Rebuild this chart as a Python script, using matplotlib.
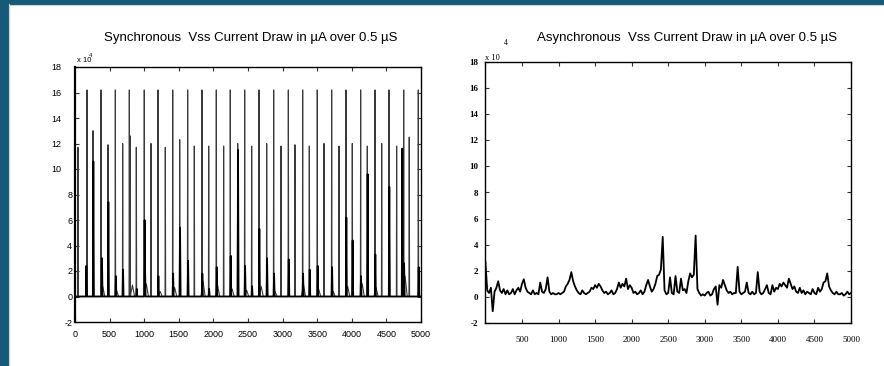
import numpy as np
import matplotlib
matplotlib.use('Agg')
import matplotlib.pyplot as plt
from matplotlib.patches import Rectangle
from matplotlib.lines import Line2D

# ===== DATA (values in units of 1e4 uA, time steps 0..5000)

# synchronous: main clock spikes
sync_tall_x = [173, 376, 583, 785, 1001, 1199, 1412, 1628, 1835, 2042, 2244, 2452,
               2659, 2871, 3083, 3290, 3501, 3709, 3916, 4128, 4335, 4537, 4750, 4961]
sync_tall_y = [16.2] * 24

sync_mid_x = [43, 260, 477, 689, 795, 886, 1098, 1305, 1513, 1724, 1932, 2148, 2351,
              2553, 2770, 2977, 3179, 3386, 3598, 3815, 4007, 4224, 4432, 4648, 4830]
sync_mid_y = [11.7, 13.0, 11.9, 12.0, 12.6, 11.7, 12.0, 11.7, 12.3, 11.8, 11.8, 11.8, 12.0,
              11.8, 12.0, 11.8, 11.9, 11.8, 12.0, 11.8, 12.0, 11.8, 12.0, 11.8, 12.5]

# secondary (thick) spikes
sync_sec_x = [164, 265, 390, 482, 590, 694, 892, 1006, 1012, 1205, 1418, 1518, 1634,
              1840, 1938, 2048, 2250, 2356, 2458, 2559, 2664, 2776, 2877, 3089, 3296,
              3392, 3507, 3715, 3921, 4012, 4133, 4229, 4340, 4542, 4729, 4756, 4967]
sync_sec_y = [2.4, 10.6, 3.0, 7.4, 1.6, 2.1, 0.6, 6.0, 2.4, 1.6, 1.8, 5.4, 2.8,
              1.8, 0.6, 2.3, 3.2, 11.5, 2.4, 0.8, 5.3, 3.0, 1.8, 2.9, 1.8,
              2.1, 2.4, 2.3, 6.2, 4.4, 1.6, 9.6, 3.3, 8.6, 11.6, 2.6, 2.3]

# small humps on the baseline
sync_hump_x = [400, 600, 830, 1030, 1230, 1440, 1850, 2060, 2270, 2480, 2690, 2890,
               3300, 3520, 3730, 3940, 4150, 4350, 4770]
sync_hump_y = [0.8, 0.5, 0.9, 1.0, 0.4, 0.7, 1.2, 0.9, 0.6, 0.5, 0.8, 0.4,
               1.0, 0.6, 0.4, 0.8, 1.0, 0.7, 1.6]

# asynchronous: sampled every 25 steps
async_x = list(range(0, 5001, 25))
async_y = [
    2.7, 0.5, 0.3, 0.7, -1.1, 0.4, 0.7, 1.2, 0.5, 0.3, 0.6, 0.2, 0.5, 0.2, 0.3, 0.6,
    0.2, 0.5, 0.7, 0.4, 1.0, 1.35, 0.7, 0.4, 0.3, 0.2, 0.5, 0.2, 0.3, 0.2, 1.1, 0.4,
    0.3, 0.6, 1.5, 0.4, 0.2, 0.3, 0.2, 0.2, 0.3, 0.2, 0.3, 0.4, 0.8, 1.0, 1.3, 1.9,
    1.2, 0.8, 0.5, 0.3, 0.2, 0.5, 0.3, 0.2, 0.3, 0.4, 0.7, 0.6, 0.9, 0.7, 1.0, 0.8,
    0.5, 0.3, 0.4, 0.2, 0.3, 0.5, 0.2, 0.3, 0.6, 1.1, 0.7, 1.0, 0.8, 1.4, 0.6, 0.9,
    0.7, 0.3, 0.4, 0.2, 0.3, 0.5, 0.2, 0.4, 0.9, 1.3, 0.8, 0.4, 0.6, 1.0, 1.6, 1.7,
    2.1, 4.6, 0.5, 0.2, 0.3, 1.5, 0.3, 0.2, 1.6, 0.4, 0.3, 1.4, 0.5, 0.6, 0.3, 1.2,
    1.8, 1.5, 1.7, 4.7, 0.6, 0.3, 0.1, 0.2, 0.1, 0.3, 0.4, 0.1, 0.2, 0.6, 0.8, -0.6,
    0.9, 0.7, 1.3, 0.9, 0.5, 0.3, 0.4, 0.2, 0.3, 0.3, 2.3, 0.4, 0.2, 0.3, 0.4, 1.1,
    0.3, 0.2, 0.4, 0.2, 0.3, 1.9, 0.4, 0.2, 0.3, 0.6, 0.9, 0.3, 0.2, 0.9, 0.4, 0.7,
    0.6, 1.0, 0.8, 1.1, 0.9, 0.7, 1.4, 1.0, 0.6, 0.8, 0.4, 0.3, 0.7, 0.3, 0.5, 0.2,
    0.4, 0.3, 0.2, 0.6, 0.3, 0.2, 0.7, 0.4, 0.6, 1.1, 1.2, 1.8, 0.8, 0.5, 0.3, 0.2,
    0.4, 0.2, 0.2, 0.3, 0.1, 0.2, 0.4, 0.2, 0.3,
]

xticks = list(range(0, 5001, 500))
yticks = list(range(-2, 19, 2))

# ===== BUILD SYNC TRACE

grid = np.arange(0, 5001, 1.0)


def pulses(xs, ys, half):
    out = np.zeros_like(grid)
    for x, h in zip(xs, ys):
        out = np.maximum(out, h * np.clip(1 - np.abs(grid - x) / half, 0, None))
    return out


sync_main = np.maximum(pulses(sync_tall_x, sync_tall_y, 4),
                       pulses(sync_mid_x, sync_mid_y, 4))
sync_main = np.maximum(sync_main, pulses(sync_hump_x, sync_hump_y, 30))
sync_sec = pulses(sync_sec_x, sync_sec_y, 7)

# ===== DISPLAY

W, H = 884, 366
fig = plt.figure(figsize=(W / 100, H / 100), dpi=100)
fig.patch.set_facecolor('white')

blue = '#155a78'
fig.patches.append(Rectangle((0, 1 - 4 / H), 1, 4 / H, transform=fig.transFigure,
                             color=blue, zorder=0))
fig.patches.append(Rectangle((0, 0), 8 / W, 1, transform=fig.transFigure,
                             color=blue, zorder=0))
fig.lines.append(Line2D([9 / W, 9 / W], [0, 1 - 4 / H], transform=fig.transFigure,
                        color='#cfcfcf', lw=0.8))
fig.lines.append(Line2D([9 / W, 1], [1 - 5 / H, 1 - 5 / H], transform=fig.transFigure,
                        color='#cfcfcf', lw=0.8))

sans = 'Liberation Sans'
serif = 'Liberation Serif'

# left: synchronous
ax1 = fig.add_axes([75 / W, 1 - 322 / H, 346 / W, 255 / H])
ax1.plot(grid, sync_main, color='#3a3a3a', lw=0.8)
ax1.plot(grid, sync_sec, color='black', lw=1.3)
ax1.set_xlim(0, 5000)
ax1.set_ylim(-2, 18)
ax1.set_xticks(xticks)
ax1.set_yticks(yticks)
ax1.set_xticklabels([str(v) for v in xticks], fontsize=6.5, family=sans)
ax1.set_yticklabels([str(v) for v in yticks], fontsize=6.5, family=sans)
ax1.tick_params(direction='in', top=True, right=True, length=3, width=0.8,
                color='#333333')
ax1.tick_params(axis='x', pad=6)
for v, t in zip(yticks, ax1.yaxis.get_major_ticks()):
    t.set_pad(10 if v >= 10 else 2)
for s in ax1.spines.values():
    s.set_linewidth(1.0)
ax1.spines['left'].set_linewidth(1.6)
ax1.text(0.005, 1.01, 'x 10', transform=ax1.transAxes, fontsize=5.5, family=sans,
         va='bottom')
ax1.text(0.04, 1.035, '4', transform=ax1.transAxes, fontsize=4, family=sans,
         va='bottom')
fig.text(251 / W, 1 - 38 / H, 'Synchronous  Vss Current Draw in \u00b5A over 0.5 \u00b5S',
         ha='center', va='center', fontsize=9.5, family=sans)

# right: asynchronous
ax2 = fig.add_axes([485.4 / W, 1 - 323 / H, 365.6 / W, 261 / H])
ax2.plot(async_x, async_y, color='black', lw=1.3)
ax2.set_xlim(0, 5000)
ax2.set_ylim(-2, 18)
ax2.set_xticks(xticks)
ax2.set_yticks(yticks)
ax2.set_xticklabels(['' if v == 0 else str(v) for v in xticks], fontsize=6.5,
                    family=serif)
ax2.set_yticklabels([str(v) for v in yticks], fontsize=6.5, family=serif,
                    fontweight='bold')
ax2.tick_params(direction='in', top=True, right=True, length=3, width=0.8,
                color='#333333')
ax2.tick_params(axis='x', pad=9)
ax2.tick_params(axis='y', pad=5)
for s in ax2.spines.values():
    s.set_linewidth(1.0)
ax2.text(0.0, 1.0, 'x 10', transform=ax2.transAxes, fontsize=6, family=serif,
         va='bottom')
fig.text(506 / W, 1 - 43 / H, '4', ha='center', va='center', fontsize=5.5, family=serif)
fig.text(687 / W, 1 - 38 / H, 'Asynchronous  Vss Current Draw in \u00b5A over 0.5 \u00b5S',
         ha='center', va='center', fontsize=9.5, family=sans)

fig.savefig('out.png', dpi=100)
